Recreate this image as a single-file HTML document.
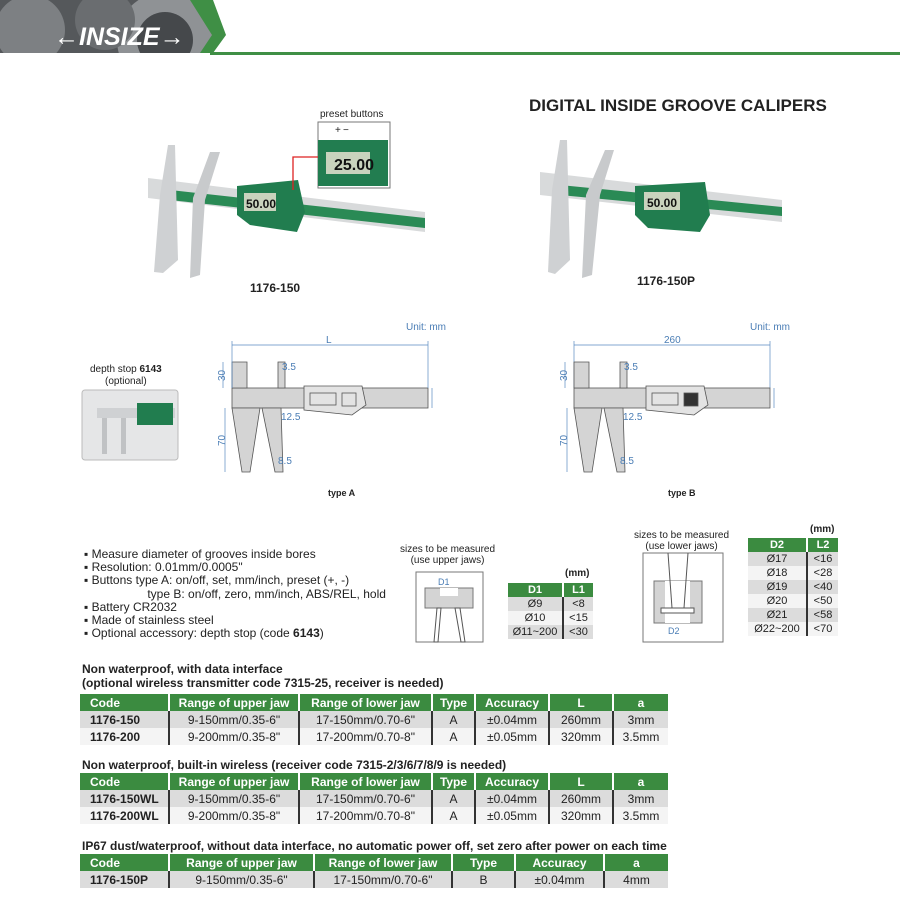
<!DOCTYPE html>
<html><head><meta charset="utf-8">
<style>
body{margin:0;width:900px;height:911px;background:#fff;position:relative;overflow:hidden;font-family:"Liberation Sans",sans-serif;color:#222}
.a{position:absolute;white-space:nowrap}
table{position:absolute;border-collapse:collapse;font-size:12px;table-layout:fixed}
td,th{padding:0;height:17px;text-align:center;border-left:2px solid #333}
td:first-child,th:first-child{border-left:none}
th{background:#3b8b40;color:#fff;font-weight:bold;border-left:2px solid #fff}
th:first-child{text-align:left;padding-left:10px}
td:first-child{font-weight:bold;text-align:left;padding-left:10px}
tr.r1 td{background:#dcdcdc}
tr.r2 td{background:#f4f4f4}
.cap{font-weight:bold;font-size:12px}
.sm table td,.sm table th{height:14px;font-size:11px}
.sm table td:first-child{text-align:center;padding-left:0;font-weight:normal}
</style></head><body>
<svg class="a" style="left:0;top:0" width="900" height="911" xmlns="http://www.w3.org/2000/svg">
<defs><clipPath id="hc"><rect x="0" y="0" width="215" height="53"/></clipPath></defs>
<!-- header -->
<g clip-path="url(#hc)">
<rect x="0" y="0" width="215" height="53" fill="#55585b"/>
<circle cx="30" cy="30" r="35" fill="#7d8083"/><circle cx="165" cy="40" r="48" fill="#8f9295"/><circle cx="165" cy="40" r="28" fill="#45484b"/><circle cx="105" cy="20" r="30" fill="#6a6d70"/>
</g>
<polygon points="190,0 215,0 227,35 213,53 200,53 212,35" fill="#3f8f45"/>
<polygon points="213,0 900,0 900,53 213,53 226,35" fill="#fff"/>
<rect x="210" y="52" width="690" height="3" fill="#3f8f45"/>
<text x="54" y="45" font-family="Liberation Sans" font-style="italic" font-weight="bold" font-size="25" fill="#fff">←INSIZE→</text>
<!-- photo 1 -->
<polygon points="148,178 425,212 425,232 148,198" fill="#d8dadb"/>
<polygon points="170,190 425,218 425,228 170,200" fill="#2a8a55"/>
<polygon points="168,145 175,145 178,260 163,273 154,272 160,195" fill="#cfd1d3"/>
<polygon points="210,152 220,152 205,200 200,275 190,278 193,198" fill="#c8cacc"/>
<polygon points="237,186 298,180 305,212 297,232 250,225 237,215" fill="#217d4f"/>
<rect x="244" y="193" width="32" height="18" fill="#c9d3bd"/>
<text x="246" y="208" font-size="12" font-weight="bold" fill="#111">50.00</text>
<rect x="318" y="122" width="72" height="66" fill="#fff" stroke="#777"/>
<rect x="318" y="140" width="70" height="46" fill="#227d50"/>
<rect x="326" y="152" width="44" height="22" fill="#c9d3bd"/>
<text x="334" y="170" font-size="16" font-weight="bold" fill="#111">25.00</text>
<polyline points="293,190 293,157 318,157" fill="none" stroke="#d22" stroke-width="1.3"/>
<text x="335" y="133" font-size="10" fill="#222">+</text><text x="343" y="133" font-size="10" fill="#222">−</text>
<!-- photo 2 -->
<polygon points="540,172 782,200 782,222 540,195" fill="#d8dadb"/>
<polygon points="560,185 782,207 782,216 560,195" fill="#2a8a55"/>
<polygon points="560,140 567,140 570,260 555,274 548,272 552,190" fill="#cfd1d3"/>
<polygon points="605,150 614,150 600,195 592,275 582,278 586,195" fill="#c8cacc"/>
<polygon points="635,186 705,182 710,215 700,232 648,228 635,215" fill="#217d4f"/>
<rect x="644" y="192" width="36" height="18" fill="#c9d3bd"/>
<text x="647" y="207" font-size="12" font-weight="bold" fill="#111">50.00</text>
<!-- depth stop photo -->
<rect x="82" y="390" width="96" height="70" rx="3" fill="#e5e6e7" stroke="#bbb"/>
<rect x="97" y="408" width="78" height="10" fill="#cfd1d3"/>
<rect x="137" y="403" width="36" height="22" fill="#217d4f"/>
<rect x="102" y="418" width="5" height="36" fill="#c0c2c4"/><rect x="121" y="418" width="5" height="36" fill="#c0c2c4"/>
<!-- drawings -->
<g stroke="#555" stroke-width="0.8" fill="#d4d4d4">
<rect x="232" y="388" width="196" height="20"/>
<polygon points="232,362 247,362 247,388 232,388"/>
<polygon points="278,362 285,362 285,388 278,388"/>
<polygon points="232,408 260,408 250,472 242,472"/>
<polygon points="262,408 281,408 283,472 275,472"/>
<polygon points="304,386 362,386 366,405 352,415 304,410" fill="#e3e3e3"/>
<rect x="310" y="393" width="26" height="12" fill="#e3e3e3"/>
<rect x="342" y="393" width="14" height="13" fill="#e3e3e3"/>
</g>
<g stroke="#5a8ac0" stroke-width="0.7" fill="none">
<line x1="232" y1="345" x2="428" y2="345"/><line x1="232" y1="341" x2="232" y2="388"/><line x1="428" y1="341" x2="428" y2="388"/>
<line x1="223" y1="362" x2="223" y2="388"/><line x1="225" y1="408" x2="225" y2="472"/>
<line x1="432" y1="388" x2="432" y2="408"/>
<line x1="574" y1="345" x2="770" y2="345"/><line x1="574" y1="341" x2="574" y2="388"/><line x1="770" y1="341" x2="770" y2="388"/>
<line x1="565" y1="362" x2="565" y2="388"/><line x1="567" y1="408" x2="567" y2="472"/>
<line x1="774" y1="388" x2="774" y2="408"/>
</g>
<g transform="translate(342,0)" stroke="#555" stroke-width="0.8" fill="#d4d4d4">
<rect x="232" y="388" width="196" height="20"/>
<polygon points="232,362 247,362 247,388 232,388"/>
<polygon points="278,362 285,362 285,388 278,388"/>
<polygon points="232,408 260,408 250,472 242,472"/>
<polygon points="262,408 281,408 283,472 275,472"/>
<polygon points="304,386 362,386 366,405 352,415 304,410" fill="#e3e3e3"/>
<rect x="310" y="393" width="26" height="12" fill="#e3e3e3"/>
<rect x="342" y="393" width="14" height="13" fill="#333"/>
</g>
<g fill="#4a7db5" font-size="10" font-family="Liberation Sans">
<text x="406" y="330">Unit: mm</text><text x="326" y="343">L</text>
<text x="216" y="380" transform="rotate(-90 221 376)">30</text><text x="216" y="445" transform="rotate(-90 221 441)">70</text>
<text x="282" y="370">3.5</text><text x="281" y="420">12.5</text><text x="278" y="464">8.5</text>
<text x="750" y="330">Unit: mm</text><text x="664" y="343">260</text>
<text x="558" y="380" transform="rotate(-90 563 376)">30</text><text x="558" y="445" transform="rotate(-90 563 441)">70</text>
<text x="624" y="370">3.5</text><text x="623" y="420">12.5</text><text x="620" y="464">8.5</text>
</g>
<!-- groove diagrams -->
<rect x="416" y="572" width="67" height="70" fill="#fff" stroke="#777"/>
<rect x="425" y="588" width="48" height="20" fill="#d4d4d4" stroke="#777"/>
<rect x="440" y="588" width="18" height="8" fill="#fff"/>
<polygon points="437,608 441,608 438,642 434,642" fill="none" stroke="#555"/>
<polygon points="455,608 460,608 465,642 461,642" fill="none" stroke="#555"/>
<rect x="643" y="553" width="80" height="89" fill="#fff" stroke="#777"/>
<rect x="654" y="581" width="48" height="42" fill="#d4d4d4" stroke="#777"/>
<rect x="665" y="581" width="25" height="42" fill="#fff"/>
<rect x="661" y="608" width="33" height="5" fill="#fff" stroke="#555"/>
<line x1="668" y1="553" x2="672" y2="608" stroke="#555"/><line x1="688" y1="553" x2="684" y2="608" stroke="#555"/>
<text x="438" y="585" font-size="9" fill="#4a7db5">D1</text><text x="668" y="634" font-size="9" fill="#4a7db5">D2</text>
</svg>

<div class="a" style="left:529px;top:96px;font-weight:bold;font-size:17px">DIGITAL INSIDE GROOVE CALIPERS</div>
<div class="a" style="left:320px;top:109px;font-size:10px">preset buttons</div>
<div class="a cap" style="left:250px;top:281px">1176-150</div>
<div class="a cap" style="left:637px;top:274px">1176-150P</div>
<div class="a" style="left:90px;top:364px;font-size:10px;text-align:center;line-height:12px">depth stop <b>6143</b><br>(optional)</div>
<div class="a" style="left:328px;top:488px;font-size:9px;font-weight:bold">type A</div>
<div class="a" style="left:668px;top:488px;font-size:9px;font-weight:bold">type B</div>

<div class="a" style="left:84px;top:548px;font-size:12px;line-height:13.2px">
▪ Measure diameter of grooves inside bores<br>▪ Resolution: 0.01mm/0.0005"<br>▪ Buttons type A: on/off, set, mm/inch, preset (+, -)<br>&nbsp;&nbsp;&nbsp;&nbsp;&nbsp;&nbsp;&nbsp;&nbsp;&nbsp;&nbsp;&nbsp;&nbsp;&nbsp;&nbsp;&nbsp;&nbsp;&nbsp;&nbsp;&nbsp;type B: on/off, zero, mm/inch, ABS/REL, hold<br>▪ Battery CR2032<br>▪ Made of stainless steel<br>▪ Optional accessory: depth stop (code <b>6143</b>)</div>

<div class="a" style="left:400px;top:544px;font-size:10px;text-align:center;line-height:11px">sizes to be measured<br>(use upper jaws)</div>
<div class="a" style="left:634px;top:530px;font-size:10px;text-align:center;line-height:11px">sizes to be measured<br>(use lower jaws)</div>
<div class="a" style="left:565px;top:568px;font-size:10px;font-weight:bold">(mm)</div>
<div class="a" style="left:810px;top:524px;font-size:10px;font-weight:bold">(mm)</div>
<div class="sm">
<table style="left:508px;top:583px;width:85px"><col style="width:55px"><col style="width:30px">
<tr><th style="text-align:center;padding:0">D1</th><th>L1</th></tr>
<tr class="r1"><td>Ø9</td><td>&lt;8</td></tr>
<tr class="r2"><td>Ø10</td><td>&lt;15</td></tr>
<tr class="r1"><td>Ø11~200</td><td>&lt;30</td></tr></table>
<table style="left:748px;top:538px;width:90px"><col style="width:59px"><col style="width:31px">
<tr><th style="text-align:center;padding:0">D2</th><th>L2</th></tr>
<tr class="r1"><td>Ø17</td><td>&lt;16</td></tr>
<tr class="r2"><td>Ø18</td><td>&lt;28</td></tr>
<tr class="r1"><td>Ø19</td><td>&lt;40</td></tr>
<tr class="r2"><td>Ø20</td><td>&lt;50</td></tr>
<tr class="r1"><td>Ø21</td><td>&lt;58</td></tr>
<tr class="r2"><td>Ø22~200</td><td>&lt;70</td></tr></table>
</div>

<div class="a cap" style="left:82px;top:662px;line-height:14px">Non waterproof, with data interface<br>(optional wireless transmitter code 7315-25, receiver is needed)</div>
<table style="left:80px;top:694px;width:588px">
<col style="width:89px"><col style="width:130px"><col style="width:133px"><col style="width:43px"><col style="width:74px"><col style="width:64px"><col style="width:55px">
<tr><th>Code</th><th>Range of upper jaw</th><th>Range of lower jaw</th><th>Type</th><th>Accuracy</th><th>L</th><th>a</th></tr>
<tr class="r1"><td>1176-150</td><td>9-150mm/0.35-6"</td><td>17-150mm/0.70-6"</td><td>A</td><td>±0.04mm</td><td>260mm</td><td>3mm</td></tr>
<tr class="r2"><td>1176-200</td><td>9-200mm/0.35-8"</td><td>17-200mm/0.70-8"</td><td>A</td><td>±0.05mm</td><td>320mm</td><td>3.5mm</td></tr></table>

<div class="a cap" style="left:82px;top:758px">Non waterproof, built-in wireless (receiver code 7315-2/3/6/7/8/9 is needed)</div>
<table style="left:80px;top:773px;width:588px">
<col style="width:89px"><col style="width:130px"><col style="width:133px"><col style="width:43px"><col style="width:74px"><col style="width:64px"><col style="width:55px">
<tr><th>Code</th><th>Range of upper jaw</th><th>Range of lower jaw</th><th>Type</th><th>Accuracy</th><th>L</th><th>a</th></tr>
<tr class="r1"><td>1176-150WL</td><td>9-150mm/0.35-6"</td><td>17-150mm/0.70-6"</td><td>A</td><td>±0.04mm</td><td>260mm</td><td>3mm</td></tr>
<tr class="r2"><td>1176-200WL</td><td>9-200mm/0.35-8"</td><td>17-200mm/0.70-8"</td><td>A</td><td>±0.05mm</td><td>320mm</td><td>3.5mm</td></tr></table>

<div class="a cap" style="left:82px;top:839px">IP67 dust/waterproof, without data interface, no automatic power off, set zero after power on each time</div>
<table style="left:80px;top:854px;width:588px">
<col style="width:89px"><col style="width:145px"><col style="width:138px"><col style="width:63px"><col style="width:89px"><col style="width:64px">
<tr><th>Code</th><th>Range of upper jaw</th><th>Range of lower jaw</th><th>Type</th><th>Accuracy</th><th>a</th></tr>
<tr class="r1"><td>1176-150P</td><td>9-150mm/0.35-6"</td><td>17-150mm/0.70-6"</td><td>B</td><td>±0.04mm</td><td>4mm</td></tr></table>
</body></html>
